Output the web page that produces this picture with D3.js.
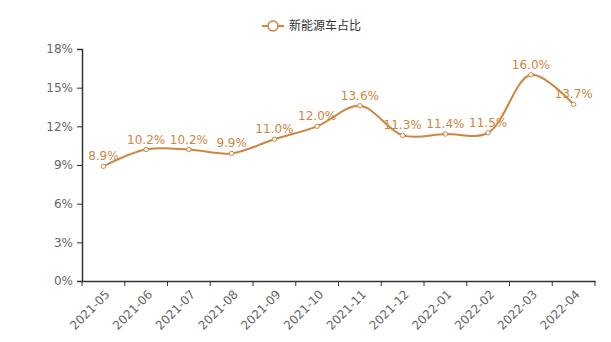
<!DOCTYPE html>
<html><head><meta charset="utf-8">
<script src="https://cdn.jsdelivr.net/npm/d3@7"></script>
<style>body{margin:0;background:#fff;}svg{display:block;font-family:"DejaVu Sans",sans-serif;}</style>
</head><body><svg id="c" width="611" height="342"></svg>
<script>
const categories = ["2021-05","2021-06","2021-07","2021-08","2021-09","2021-10","2021-11","2021-12","2022-01","2022-02","2022-03","2022-04"];
const shareValues = [8.9,10.2,10.2,9.9,11.0,12.0,13.6,11.3,11.4,11.5,16.0,13.7];
const yTicks = [0,3,6,9,12,15,18];
const seriesName = "新能源车占比";

const color = "#cd853f";
const svg = d3.select("#c");
const m = {l:82, r:16, t:49, b:61};
const W = 611, H = 342;
const x = d3.scaleBand().domain(categories).range([m.l, W - m.r]);
const y = d3.scaleLinear().domain([0,18]).range([H - m.b, m.t]);

// y axis
const ya = svg.append("g").attr("transform",`translate(${m.l},0)`)
  .call(d3.axisLeft(y).tickValues(yTicks).tickFormat(d=>d+"%").tickSize(5).tickPadding(4));
ya.select(".domain").attr("stroke","#333").attr("stroke-width",1.5);
ya.selectAll(".tick line").attr("stroke","#333");
ya.selectAll("text").attr("fill","#666").attr("font-size",12).attr("font-family","DejaVu Sans");

// x axis
const xa = svg.append("g").attr("transform",`translate(0,${H - m.b})`)
  .call(d3.axisBottom(x).tickSize(0).tickSizeOuter(0));
xa.select(".domain").attr("stroke","#333").attr("stroke-width",1.5);
xa.selectAll(".tick line").remove();
// boundary ticks
const bounds = categories.map(c=>x(c)).concat([x(categories[categories.length-1]) + x.bandwidth()]);
xa.selectAll(".btick").data(bounds).enter().append("line")
  .attr("x1",d=>d).attr("x2",d=>d).attr("y1",0).attr("y2",5).attr("stroke","#333");
xa.selectAll(".tick text").attr("fill","#666").attr("font-size",12).attr("font-family","DejaVu Sans")
  .attr("text-anchor","end").attr("dy",0).attr("dx",0)
  .attr("transform","translate(5,12) rotate(-45)");

// line
const cx = d => x(d) + x.bandwidth()/2;
const line = d3.line().x((d,i)=>cx(categories[i])).y(d=>y(d)).curve(d3.curveCatmullRom.alpha(0.5));
svg.append("path").datum(shareValues).attr("d",line).attr("fill","none").attr("stroke",color).attr("stroke-width",2);

svg.selectAll(".pt").data(shareValues).enter().append("circle")
  .attr("cx",(d,i)=>cx(categories[i])).attr("cy",d=>y(d)).attr("r",2.2)
  .attr("fill","#fff").attr("stroke",color).attr("stroke-width",1);

svg.selectAll(".lbl").data(shareValues).enter().append("text")
  .attr("x",(d,i)=>cx(categories[i])).attr("y",d=>y(d)-6)
  .attr("text-anchor","middle").attr("fill",color).attr("font-size",12)
  .attr("font-family","DejaVu Sans").text(d=>d.toFixed(1)+"%");

// legend
const lg = svg.append("g").attr("transform","translate(262,26)");
lg.append("line").attr("x1",0).attr("x2",22).attr("y1",0).attr("y2",0).attr("stroke",color).attr("stroke-width",2);
lg.append("circle").attr("cx",11).attr("cy",0).attr("r",5).attr("fill","#fff").attr("stroke",color).attr("stroke-width",1.5);
lg.append("text").attr("x",27).attr("y",0).attr("dy","0.35em").attr("fill","#333").attr("font-size",12)
  .attr("font-family","Noto Sans CJK SC").text(seriesName);
</script></body></html>
